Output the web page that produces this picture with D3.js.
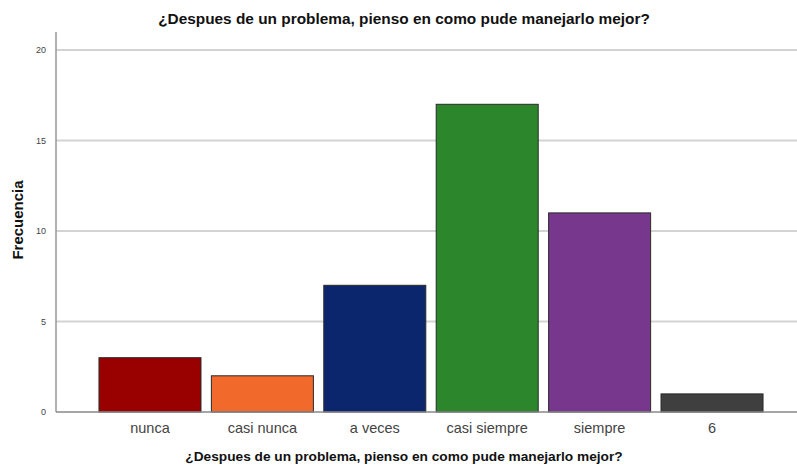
<!DOCTYPE html>
<html><head><meta charset="utf-8">
<script src="https://cdn.jsdelivr.net/npm/d3@7"></script>
<style>body{margin:0;background:#fff}</style>
</head><body>
<svg id="c" width="797" height="465"></svg>
<script>
const categories = ["nunca","casi nunca","a veces","casi siempre","siempre","6"];
const values = [3,2,7,17,11,1];
const colors = ["#990000","#f26a2b","#0c266e","#2b862c","#76378c","#3f3f3f"];
const yTicks = [0,5,10,15,20];
const title = "¿Despues de un problema, pienso en como pude manejarlo mejor?";

const svg = d3.select("#c");
const font = "Liberation Sans, Arial, sans-serif";
const y = d3.scaleLinear().domain([0,20]).range([412,50]);
const x = d3.scaleBand().domain(categories).range([93.8,768.2]).paddingInner(0.0925).paddingOuter(0.046);

// gridlines
svg.append("g").selectAll("line").data(yTicks.filter(d=>d>0)).join("line")
  .attr("x1",56).attr("x2",797).attr("y1",d=>y(d)).attr("y2",d=>y(d))
  .attr("stroke","#d3d3d3").attr("stroke-width",2);

// bars
svg.append("g").selectAll("rect").data(values).join("rect")
  .attr("x",(d,i)=>x(categories[i])).attr("width",x.bandwidth())
  .attr("y",d=>y(d)).attr("height",d=>y(0)-y(d))
  .attr("fill",(d,i)=>colors[i]).attr("stroke","#2a2a2a").attr("stroke-width",1);

// y axis
const ya = svg.append("g").attr("transform","translate(56,0)")
  .call(d3.axisLeft(y).tickValues(yTicks).tickSize(0).tickPadding(10));
ya.select(".domain").remove();
ya.selectAll("text").attr("font-family",font).attr("font-size",9).attr("fill","#444");
svg.append("line").attr("x1",56).attr("x2",56).attr("y1",32).attr("y2",412).attr("stroke","#999").attr("stroke-width",1.5);

// x axis
const xa = svg.append("g").attr("transform","translate(0,412)")
  .call(d3.axisBottom(x).tickSize(0).tickPadding(11));
xa.select(".domain").remove();
xa.selectAll("text").attr("font-family",font).attr("font-size",14.5).attr("fill","#444");
svg.append("line").attr("x1",56).attr("x2",797).attr("y1",412).attr("y2",412).attr("stroke","#888").attr("stroke-width",1.5);

// titles
svg.append("text").attr("x",404).attr("y",24).attr("text-anchor","middle")
  .attr("font-family",font).attr("font-weight","bold").attr("font-size",15.4).attr("fill","#111").text(title);
svg.append("text").attr("x",404).attr("y",461).attr("text-anchor","middle")
  .attr("font-family",font).attr("font-weight","bold").attr("font-size",13.7).attr("fill","#111").text(title);
svg.append("text").attr("transform","translate(23,220) rotate(-90)").attr("text-anchor","middle")
  .attr("font-family",font).attr("font-weight","bold").attr("font-size",15).attr("fill","#111").text("Frecuencia");
</script>
</body></html>
